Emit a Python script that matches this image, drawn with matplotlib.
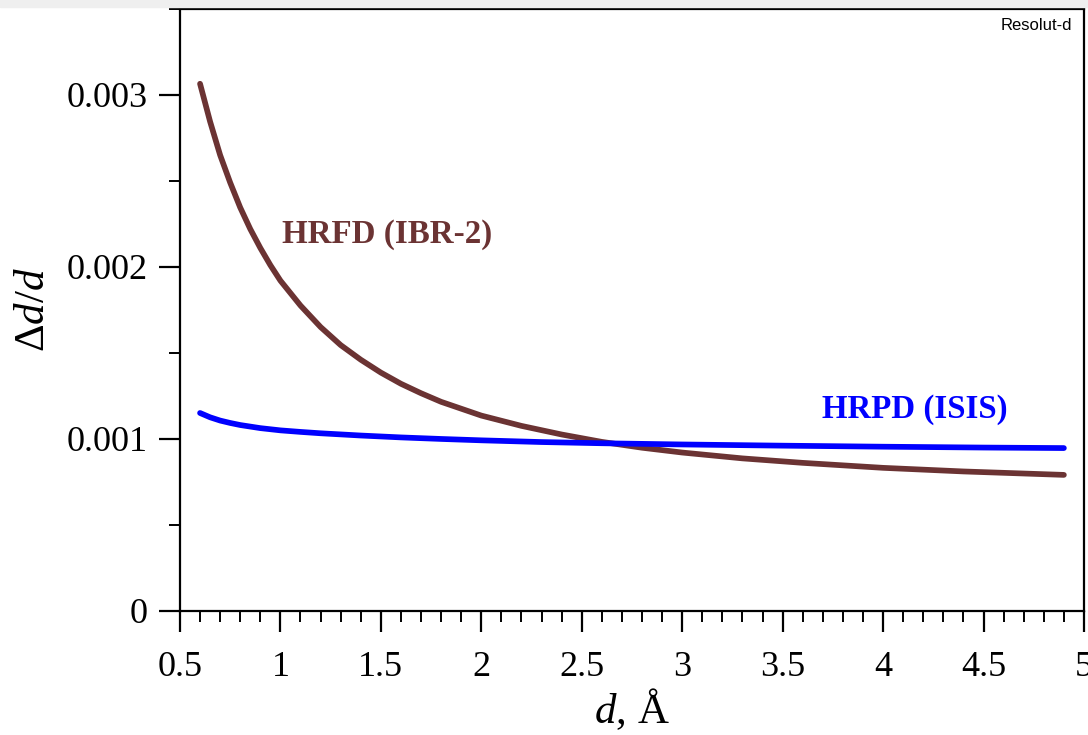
import numpy as np
import matplotlib
matplotlib.use("Agg")
import matplotlib.pyplot as plt
from matplotlib.ticker import MultipleLocator, FuncFormatter

# curves (d in Angstrom, resolution in units of 1e-3)
d_hrfd = [0.60, 0.65, 0.70, 0.75, 0.80, 0.85, 0.90, 0.95, 1.00, 1.10, 1.20, 1.30, 1.40, 1.50,
          1.60, 1.70, 1.80, 1.90, 2.00, 2.20, 2.40, 2.60, 2.80, 3.00, 3.30, 3.60, 4.00, 4.40, 4.90]
res_hrfd = [3.065, 2.845, 2.65, 2.49, 2.345, 2.22, 2.11, 2.01, 1.92, 1.775, 1.65, 1.545, 1.46, 1.385,
            1.32, 1.265, 1.215, 1.175, 1.135, 1.075, 1.025, 0.982, 0.948, 0.92, 0.886, 0.86, 0.831, 0.81, 0.79]

d_hrpd = [0.60, 0.65, 0.70, 0.75, 0.80, 0.90, 1.00, 1.10, 1.20, 1.40, 1.60, 1.80, 2.00, 2.30,
          2.60, 3.00, 3.50, 4.00, 4.50, 4.90]
res_hrpd = [1.150, 1.125, 1.106, 1.092, 1.080, 1.062, 1.049, 1.040, 1.032, 1.019, 1.008, 0.999,
            0.991, 0.981, 0.974, 0.967, 0.960, 0.954, 0.949, 0.946]

brown = '#6b3333'
blue = '#0000ff'

plt.rcParams['font.family'] = ['Liberation Serif', 'DejaVu Serif']
plt.rcParams['mathtext.fontset'] = 'custom'
plt.rcParams['mathtext.it'] = 'Liberation Serif:italic'
plt.rcParams['mathtext.rm'] = 'Liberation Serif'

fig = plt.figure(figsize=(10.88, 7.35), dpi=100)
ax = fig.add_axes([0.1654, 0.1691, 0.9963 - 0.1654, 0.9878 - 0.1691])

ax.plot(d_hrfd, np.array(res_hrfd) * 1e-3, color=brown, lw=4.1, solid_capstyle='round',
        solid_joinstyle='round')
ax.plot(d_hrpd, np.array(res_hrpd) * 1e-3, color=blue, lw=4.1, solid_capstyle='round',
        solid_joinstyle='round')

ax.text(1.008, 2.186e-3, 'HRFD (IBR-2)', color=brown, fontsize=23.8, fontweight='bold', va='center')
ax.text(3.696, 1.168e-3, 'HRPD (ISIS)', color=blue, fontsize=23.7, fontweight='bold', va='center')
ax.text(0.987, 0.985, 'Resolut-d', transform=ax.transAxes, ha='right', va='top',
        fontsize=12, family='Liberation Sans')

ax.set_xlim(0.5, 5)
ax.set_ylim(0, 0.0035)
ax.xaxis.set_major_locator(MultipleLocator(0.5))
ax.xaxis.set_minor_locator(MultipleLocator(0.1))
ax.yaxis.set_major_locator(MultipleLocator(0.001))
ax.yaxis.set_minor_locator(MultipleLocator(0.0005))
ax.xaxis.set_major_formatter(FuncFormatter(lambda v, p: ('%g' % v)))
ax.yaxis.set_major_formatter(FuncFormatter(lambda v, p: '0' if v == 0 else '%.3f' % v))

ax.tick_params(which='major', direction='out', length=15, width=1.6, labelsize=26, pad=8)
ax.tick_params(which='minor', direction='out', length=8, width=1.4)
ax.tick_params(axis='x', which='major', pad=14)
ax.tick_params(top=False, right=False, which='both')
for s in ax.spines.values():
    s.set_linewidth(1.6)

ax.set_xlabel(r'$d$, Å', fontsize=31, labelpad=2)
ax.set_ylabel(r'$\Delta d$/$d$', fontsize=31, labelpad=10)

# faint grey strip along the top edge of the screenshot
fig.patches.append(plt.Rectangle((0, 1 - 7 / 735), 1, 7 / 735, transform=fig.transFigure,
                                 color='#efefef', zorder=0))

fig.savefig('out.png', dpi=100)
